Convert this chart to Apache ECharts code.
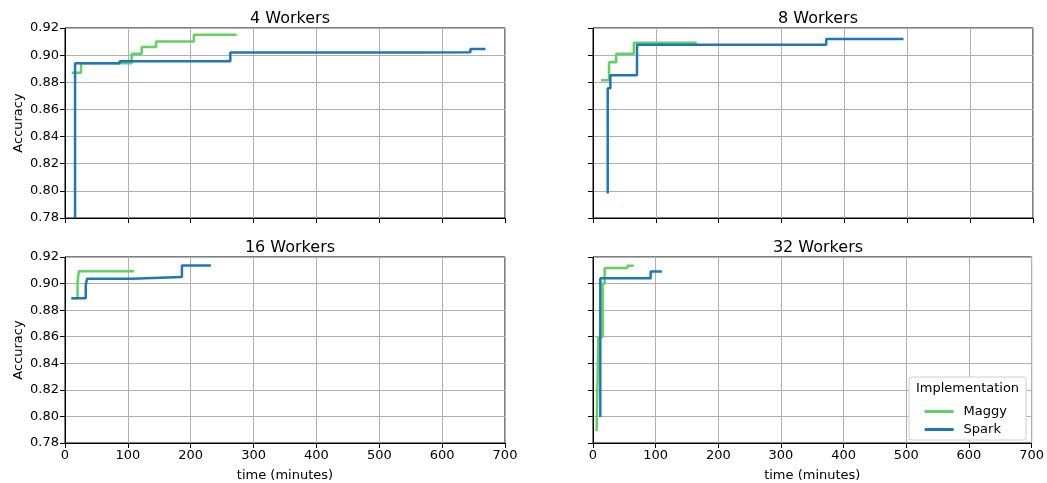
<!DOCTYPE html>
<html><head><meta charset="utf-8">
<script src="https://cdn.jsdelivr.net/npm/echarts@6/dist/echarts.min.js"></script>
<style>html,body{margin:0;padding:0;background:#fff}#c{width:1047px;height:483px}</style>
</head><body><div id="c"></div>
<script>
// Data: [time (minutes), accuracy] change points (step-post)
const panelTitles = ['4 Workers', '8 Workers', '16 Workers', '32 Workers'];
const xTicks = [0, 100, 200, 300, 400, 500, 600, 700];
const yTicks = [0.78, 0.80, 0.82, 0.84, 0.86, 0.88, 0.90, 0.92];

const maggy4 = [[10.7,0.887],[25.5,0.894],[106,0.901],[122,0.906],[145,0.910],[205,0.915],[273,0.915]];
const spark4 = [[16,0.78],[16,0.894],[87,0.8955],[263,0.902],[559,0.9022],[645,0.9045],[669,0.9045]];

const maggy8 = [[12.7,0.8815],[25.5,0.8947],[37,0.901],[65,0.9092],[165,0.9092]];
const spark8 = [[23.4,0.798],[23.4,0.8756],[27.6,0.8851],[70,0.9077],[371,0.9119],[494,0.9119]];

const maggy16 = [[9.5,0.889],[20,0.901],[22,0.9092],[110,0.9092]];
const spark16 = [[10.6,0.889],[33,0.8986],[35,0.9036],[106,0.905],[186,0.9136],[232,0.9136]];

const maggy32 = [[5.8,0.7888],[8.5,0.86],[15.4,0.8999],[18.6,0.9117],[55,0.9134],[65,0.9134]];
const spark32 = [[11.7,0.7995],[11.7,0.904],[92,0.909],[110,0.909]];

const maggySeries = [maggy4, maggy8, maggy16, maggy32];
const sparkSeries = [spark4, spark8, spark16, spark32];

const GREEN = '#5fd35f', BLUE = '#1f77b4';
const FONT = 'DejaVu Sans';
const grids = [
  {left: 65, top: 28, width: 440, height: 190},
  {left: 593, top: 28, width: 440, height: 190},
  {left: 65, top: 257, width: 440, height: 190},
  {left: 593, top: 257, width: 440, height: 190}
];
const option = {
  animation: false,
  textStyle: {fontFamily: FONT},
  title: grids.map((g, i) => ({
    text: panelTitles[i], left: g.left + g.width / 2, top: g.top - 22, textAlign: 'center',
    textStyle: {fontFamily: FONT, fontSize: 16, fontWeight: 'normal', color: '#000'}
  })),
  grid: grids.map(g => Object.assign({show: true, borderColor: '#000', borderWidth: 1, backgroundColor: 'transparent'}, g)),
  xAxis: grids.map((g, i) => ({
    type: 'value', gridIndex: i, min: xTicks[0], max: xTicks[xTicks.length - 1], interval: 100,
    name: i >= 2 ? 'time (minutes)' : '', nameLocation: 'middle', nameGap: 26,
    nameTextStyle: {fontFamily: FONT, fontSize: 13, color: '#000'},
    axisLine: {show: true, onZero: false, lineStyle: {color: '#000', width: 1}},
    axisTick: {show: true, length: 5, lineStyle: {color: '#000'}},
    axisLabel: {show: i >= 2, fontFamily: FONT, fontSize: 13, color: '#000', margin: 6},
    splitLine: {show: true, lineStyle: {color: '#b0b0b0', width: 1}}
  })),
  yAxis: grids.map((g, i) => ({
    type: 'value', gridIndex: i, min: yTicks[0], max: yTicks[yTicks.length - 1], interval: 0.02,
    name: i % 2 === 0 ? 'Accuracy' : '', nameLocation: 'middle', nameGap: 40,
    nameTextStyle: {fontFamily: FONT, fontSize: 13, color: '#000'},
    axisLine: {show: true, lineStyle: {color: '#000', width: 1}},
    axisTick: {show: true, length: 5, lineStyle: {color: '#000'}},
    axisLabel: {show: i % 2 === 0, fontFamily: FONT, fontSize: 13, color: '#000', margin: 6,
      formatter: v => v.toFixed(2)},
    splitLine: {show: true, lineStyle: {color: '#b0b0b0', width: 1}}
  })),
  legend: {
    right: 1047 - 1026 + 14, top: 400, orient: 'vertical', itemGap: 5,
    itemWidth: 29, itemHeight: 3, icon: 'rect', z: 20,
    textStyle: {fontFamily: FONT, fontSize: 13, color: '#000', padding: [0, 0, 0, 5]},
    data: ['Maggy', 'Spark']
  },
  graphic: [
    {type: 'rect', shape: {x: 909, y: 377, width: 117, height: 63, r: 3},
     style: {fill: '#fff', stroke: '#d0d0d0', lineWidth: 1}, z: 10},
    {type: 'text', x: 967.5, y: 389, style: {text: 'Implementation', font: '13px "DejaVu Sans"', fill: '#000',
      textAlign: 'center', textVerticalAlign: 'middle'}, z: 11}
  ],
  series: []
};
for (let i = 0; i < 4; i++) {
  option.series.push({name: 'Maggy', type: 'line', step: 'end', xAxisIndex: i, yAxisIndex: i,
    data: maggySeries[i], showSymbol: false, symbol: 'none', clip: true,
    lineStyle: {color: GREEN, width: 2.5}, itemStyle: {color: GREEN}, z: 3});
  option.series.push({name: 'Spark', type: 'line', step: 'end', xAxisIndex: i, yAxisIndex: i,
    data: sparkSeries[i], showSymbol: false, symbol: 'none', clip: true,
    lineStyle: {color: BLUE, width: 2.5}, itemStyle: {color: BLUE}, z: 4});
}
const chart = echarts.init(document.getElementById('c'), null, {renderer: 'canvas'});
chart.setOption(option);
</script></body></html>
